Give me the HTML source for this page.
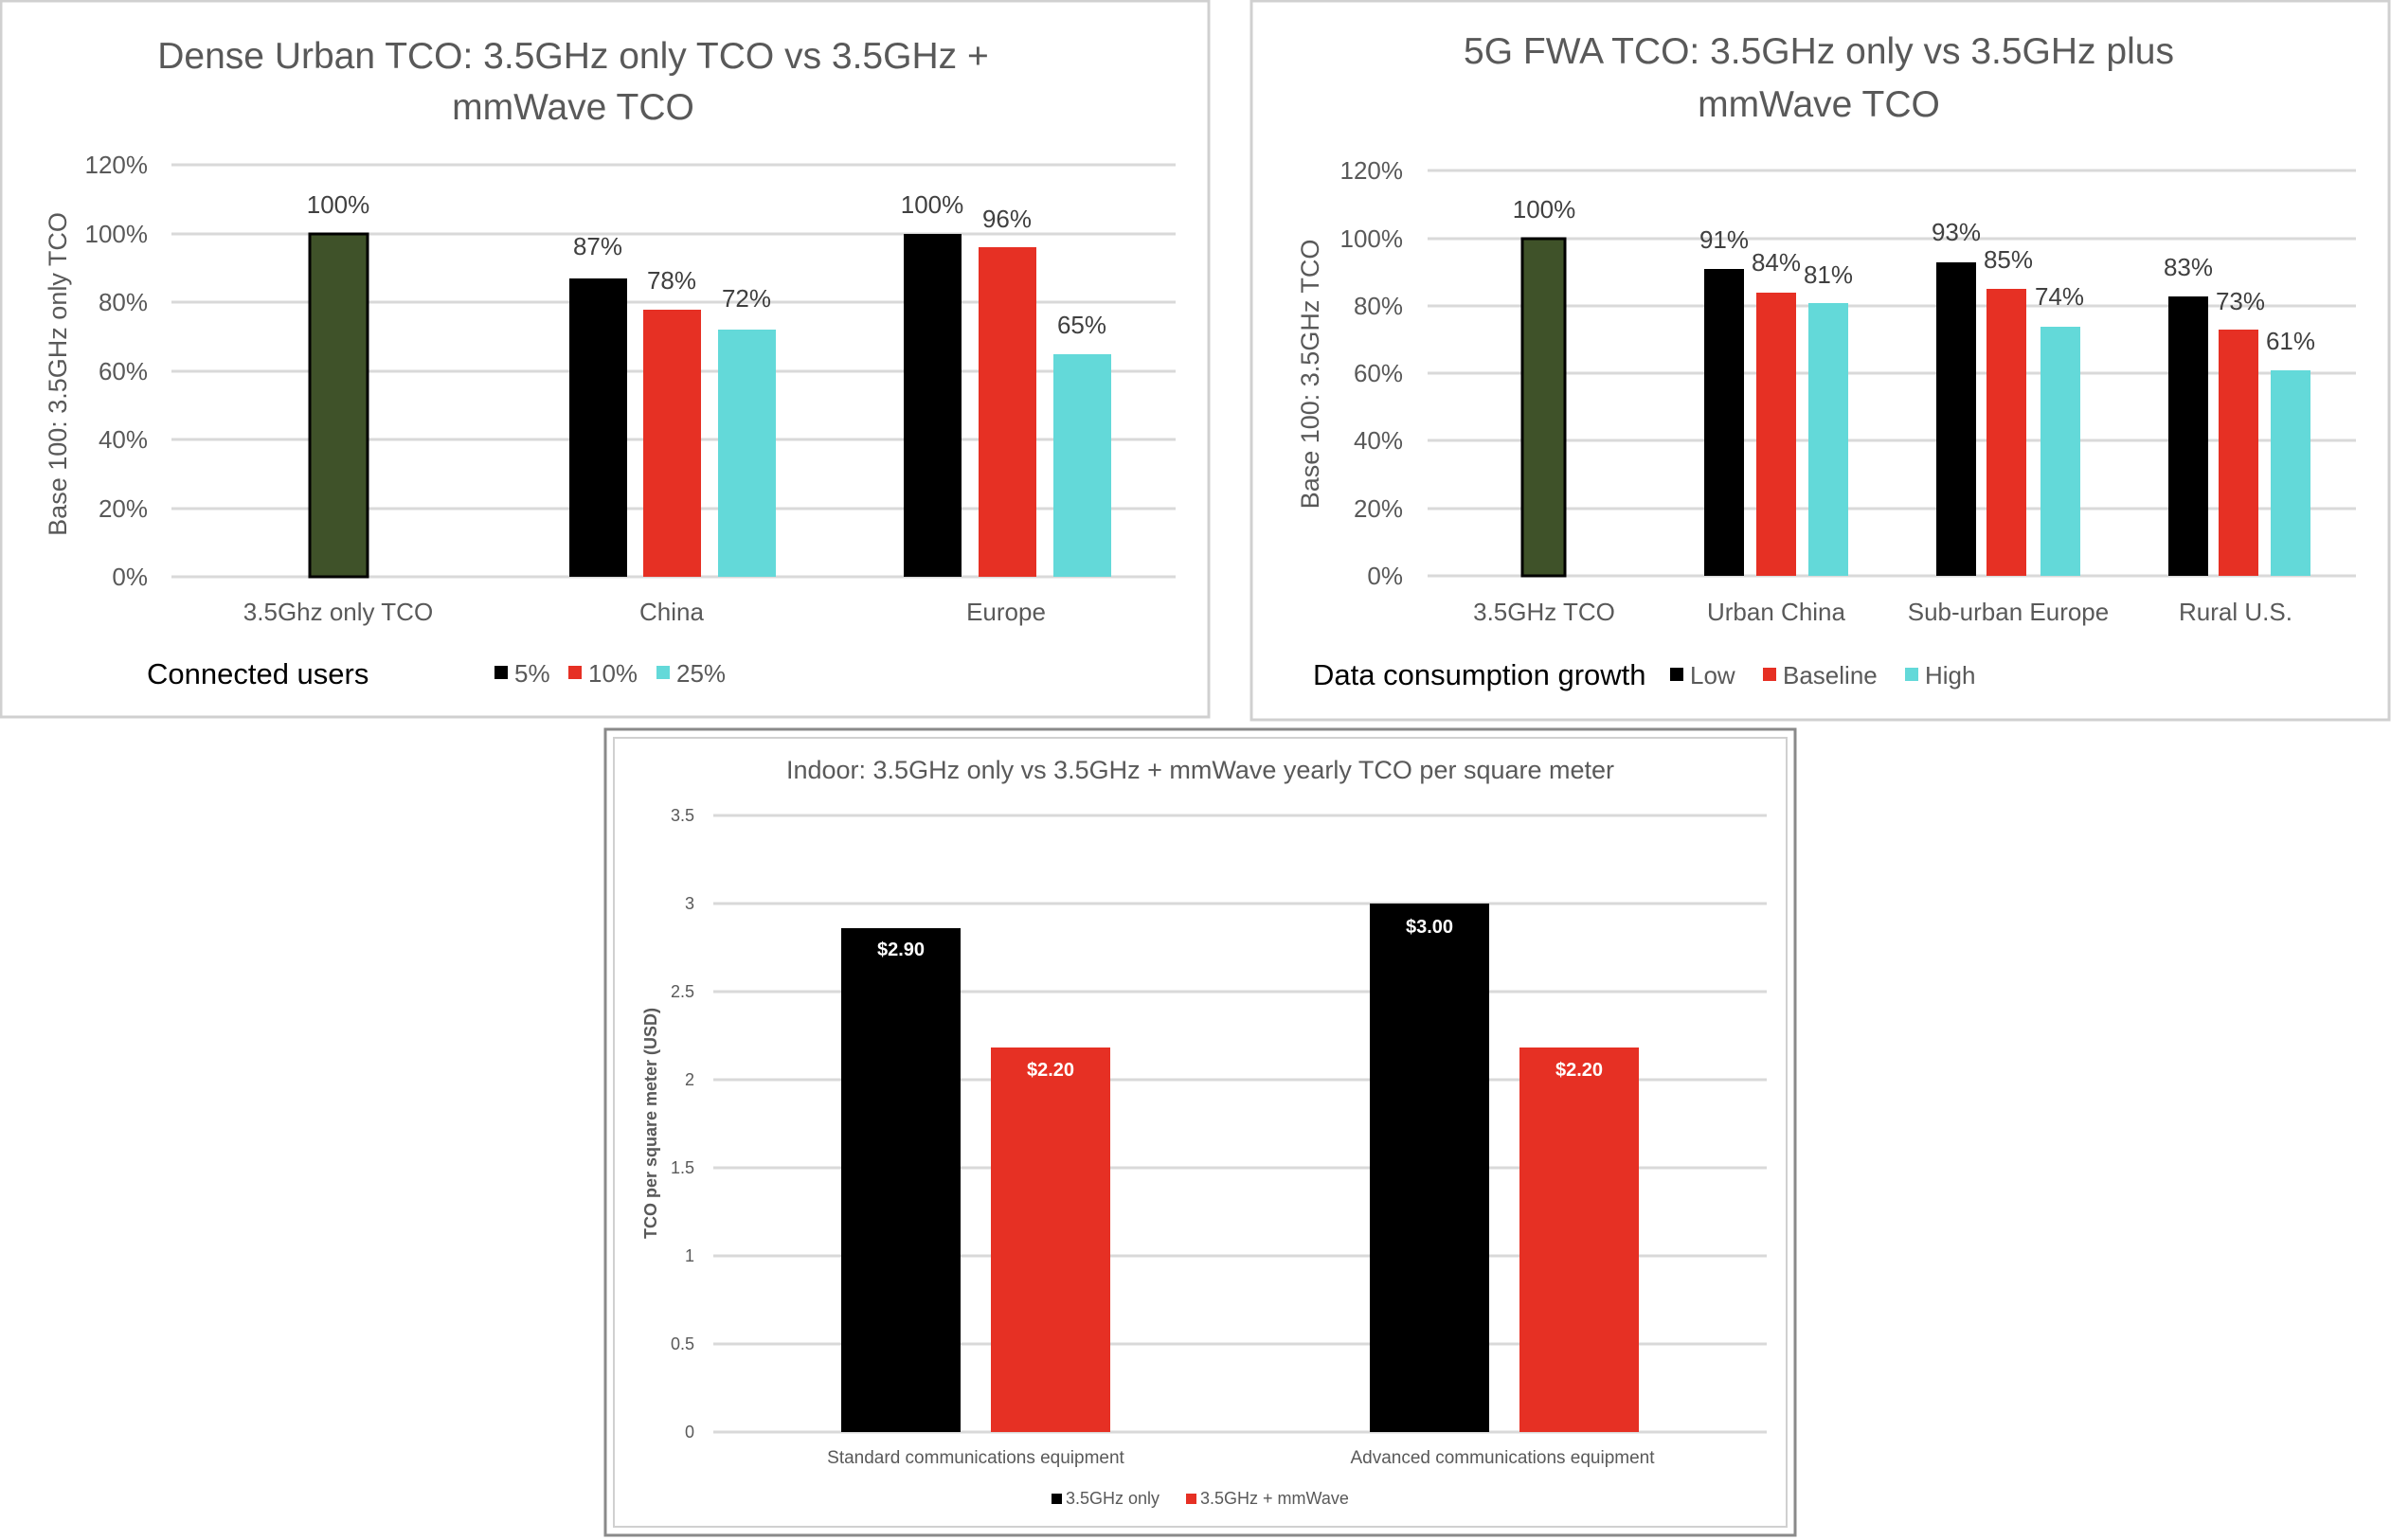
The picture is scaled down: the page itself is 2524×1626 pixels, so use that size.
<!DOCTYPE html>
<html><head><meta charset="utf-8"><style>
html,body{margin:0;padding:0;background:#fff;}
svg{display:block;font-family:"Liberation Sans Narrow","Liberation Sans",sans-serif;}
</style></head><body>
<svg width="2524" height="1626" viewBox="0 0 2524 1626" xmlns="http://www.w3.org/2000/svg">
<rect width="2524" height="1626" fill="#fff"/>
<!-- Chart 1 -->
<rect x="1" y="1" width="1275" height="756" fill="#fff" stroke="#d0d0d0" stroke-width="3"/>
<g fill="#595959" font-size="39" text-anchor="middle">
<text x="605" y="72">Dense Urban TCO: 3.5GHz only TCO vs 3.5GHz +</text>
<text x="605" y="126">mmWave TCO</text>
</g>
<g stroke="#d9d9d9" stroke-width="3">
<line x1="181" x2="1241" y1="174" y2="174"/><line x1="181" x2="1241" y1="247" y2="247"/>
<line x1="181" x2="1241" y1="319" y2="319"/><line x1="181" x2="1241" y1="392" y2="392"/>
<line x1="181" x2="1241" y1="464" y2="464"/><line x1="181" x2="1241" y1="537" y2="537"/>
<line x1="181" x2="1241" y1="609" y2="609"/>
</g>
<g fill="#595959" font-size="26" text-anchor="end">
<text x="156" y="183">120%</text><text x="156" y="256">100%</text><text x="156" y="328">80%</text>
<text x="156" y="401">60%</text><text x="156" y="473">40%</text><text x="156" y="546">20%</text><text x="156" y="618">0%</text>
</g>
<text transform="translate(70,395) rotate(-90)" fill="#595959" font-size="27" text-anchor="middle" font-family="Liberation Sans,sans-serif">Base 100: 3.5GHz only TCO</text>
<rect x="327" y="247" width="61" height="362" fill="#3f5229" stroke="#000" stroke-width="3"/>
<rect x="601" y="294" width="61" height="315" fill="#000"/>
<rect x="679" y="327" width="61" height="282" fill="#e63024"/>
<rect x="758" y="348" width="61" height="261" fill="#63d9d9"/>
<rect x="954" y="247" width="61" height="362" fill="#000"/>
<rect x="1033" y="261" width="61" height="348" fill="#e63024"/>
<rect x="1112" y="374" width="61" height="235" fill="#63d9d9"/>
<g fill="#404040" font-size="26" text-anchor="middle">
<text x="357" y="225">100%</text><text x="631" y="269">87%</text><text x="709" y="305">78%</text>
<text x="788" y="324">72%</text><text x="984" y="225">100%</text><text x="1063" y="240">96%</text><text x="1142" y="352">65%</text>
</g>
<g fill="#595959" font-size="26" text-anchor="middle">
<text x="357" y="655">3.5Ghz only TCO</text><text x="709" y="655">China</text><text x="1062" y="655">Europe</text>
</g>
<text x="155" y="722" fill="#000" font-size="31">Connected users</text>
<rect x="522" y="703" width="14" height="14" fill="#000"/><text x="543" y="720" fill="#595959" font-size="26">5%</text>
<rect x="600" y="703" width="14" height="14" fill="#e63024"/><text x="621" y="720" fill="#595959" font-size="26">10%</text>
<rect x="693" y="703" width="14" height="14" fill="#63d9d9"/><text x="714" y="720" fill="#595959" font-size="26">25%</text>

<!-- Chart 2 -->
<rect x="1321" y="1" width="1201" height="759" fill="#fff" stroke="#d0d0d0" stroke-width="3"/>
<g fill="#595959" font-size="39" text-anchor="middle">
<text x="1920" y="67">5G FWA TCO: 3.5GHz only vs 3.5GHz plus</text>
<text x="1920" y="123">mmWave TCO</text>
</g>
<g stroke="#d9d9d9" stroke-width="3">
<line x1="1507" x2="2487" y1="180" y2="180"/><line x1="1507" x2="2487" y1="252" y2="252"/>
<line x1="1507" x2="2487" y1="323" y2="323"/><line x1="1507" x2="2487" y1="394" y2="394"/>
<line x1="1507" x2="2487" y1="465" y2="465"/><line x1="1507" x2="2487" y1="537" y2="537"/>
<line x1="1507" x2="2487" y1="608" y2="608"/>
</g>
<g fill="#595959" font-size="26" text-anchor="end">
<text x="1481" y="189">120%</text><text x="1481" y="261">100%</text><text x="1481" y="332">80%</text>
<text x="1481" y="403">60%</text><text x="1481" y="474">40%</text><text x="1481" y="546">20%</text><text x="1481" y="617">0%</text>
</g>
<text transform="translate(1392,395) rotate(-90)" fill="#595959" font-size="27" text-anchor="middle" font-family="Liberation Sans,sans-serif">Base 100: 3.5GHz TCO</text>
<rect x="1607" y="252" width="45" height="356" fill="#3f5229" stroke="#000" stroke-width="3"/>
<rect x="1799" y="284" width="42" height="324" fill="#000"/>
<rect x="1854" y="309" width="42" height="299" fill="#e63024"/>
<rect x="1909" y="320" width="42" height="288" fill="#63d9d9"/>
<rect x="2044" y="277" width="42" height="331" fill="#000"/>
<rect x="2097" y="305" width="42" height="303" fill="#e63024"/>
<rect x="2154" y="345" width="42" height="263" fill="#63d9d9"/>
<rect x="2289" y="313" width="42" height="295" fill="#000"/>
<rect x="2342" y="348" width="42" height="260" fill="#e63024"/>
<rect x="2397" y="391" width="42" height="217" fill="#63d9d9"/>
<g fill="#404040" font-size="26" text-anchor="middle">
<text x="1630" y="230">100%</text><text x="1820" y="262">91%</text><text x="1875" y="286">84%</text>
<text x="1930" y="299">81%</text><text x="2065" y="254">93%</text><text x="2120" y="283">85%</text>
<text x="2174" y="322">74%</text><text x="2310" y="291">83%</text><text x="2365" y="327">73%</text><text x="2418" y="369">61%</text>
</g>
<g fill="#595959" font-size="26" text-anchor="middle">
<text x="1630" y="655">3.5GHz TCO</text><text x="1875" y="655">Urban China</text>
<text x="2120" y="655">Sub-urban Europe</text><text x="2360" y="655">Rural U.S.</text>
</g>
<text x="1386" y="723" fill="#000" font-size="31">Data consumption growth</text>
<rect x="1763" y="705" width="14" height="14" fill="#000"/><text x="1784" y="722" fill="#595959" font-size="26">Low</text>
<rect x="1861" y="705" width="14" height="14" fill="#e63024"/><text x="1882" y="722" fill="#595959" font-size="26">Baseline</text>
<rect x="2011" y="705" width="14" height="14" fill="#63d9d9"/><text x="2032" y="722" fill="#595959" font-size="26">High</text>

<!-- Chart 3 -->
<rect x="639" y="770" width="1256" height="851" fill="#fff" stroke="#8a8a8a" stroke-width="3"/>
<rect x="648" y="779" width="1238" height="833" fill="none" stroke="#d0d0d0" stroke-width="2"/>
<text x="1267" y="822" fill="#595959" font-size="27" text-anchor="middle">Indoor: 3.5GHz only vs 3.5GHz + mmWave yearly TCO per square meter</text>
<g stroke="#d9d9d9" stroke-width="3">
<line x1="753" x2="1865" y1="861" y2="861"/><line x1="753" x2="1865" y1="954" y2="954"/>
<line x1="753" x2="1865" y1="1047" y2="1047"/><line x1="753" x2="1865" y1="1140" y2="1140"/>
<line x1="753" x2="1865" y1="1233" y2="1233"/><line x1="753" x2="1865" y1="1326" y2="1326"/>
<line x1="753" x2="1865" y1="1419" y2="1419"/><line x1="753" x2="1865" y1="1512" y2="1512"/>
</g>
<g fill="#595959" font-size="18" text-anchor="end">
<text x="733" y="867">3.5</text><text x="733" y="960">3</text><text x="733" y="1053">2.5</text><text x="733" y="1146">2</text>
<text x="733" y="1239">1.5</text><text x="733" y="1332">1</text><text x="733" y="1425">0.5</text><text x="733" y="1518">0</text>
</g>
<text transform="translate(693,1186) rotate(-90)" fill="#595959" font-size="18" font-weight="bold" text-anchor="middle" font-family="Liberation Sans,sans-serif">TCO per square meter (USD)</text>
<rect x="888" y="980" width="126" height="532" fill="#000"/>
<rect x="1046" y="1106" width="126" height="406" fill="#e63024"/>
<rect x="1446" y="954" width="126" height="558" fill="#000"/>
<rect x="1604" y="1106" width="126" height="406" fill="#e63024"/>
<g fill="#fff" font-size="20" text-anchor="middle" font-weight="bold">
<text x="951" y="1009">$2.90</text><text x="1109" y="1136">$2.20</text>
<text x="1509" y="985">$3.00</text><text x="1667" y="1136">$2.20</text>
</g>
<g fill="#595959" font-size="19" text-anchor="middle">
<text x="1030" y="1545">Standard communications equipment</text>
<text x="1586" y="1545">Advanced communications equipment</text>
</g>
<rect x="1110" y="1577" width="11" height="11" fill="#000"/><text x="1125" y="1588" fill="#595959" font-size="18">3.5GHz only</text>
<rect x="1252" y="1577" width="11" height="11" fill="#e63024"/><text x="1267" y="1588" fill="#595959" font-size="18">3.5GHz + mmWave</text>
</svg>
</body></html>
